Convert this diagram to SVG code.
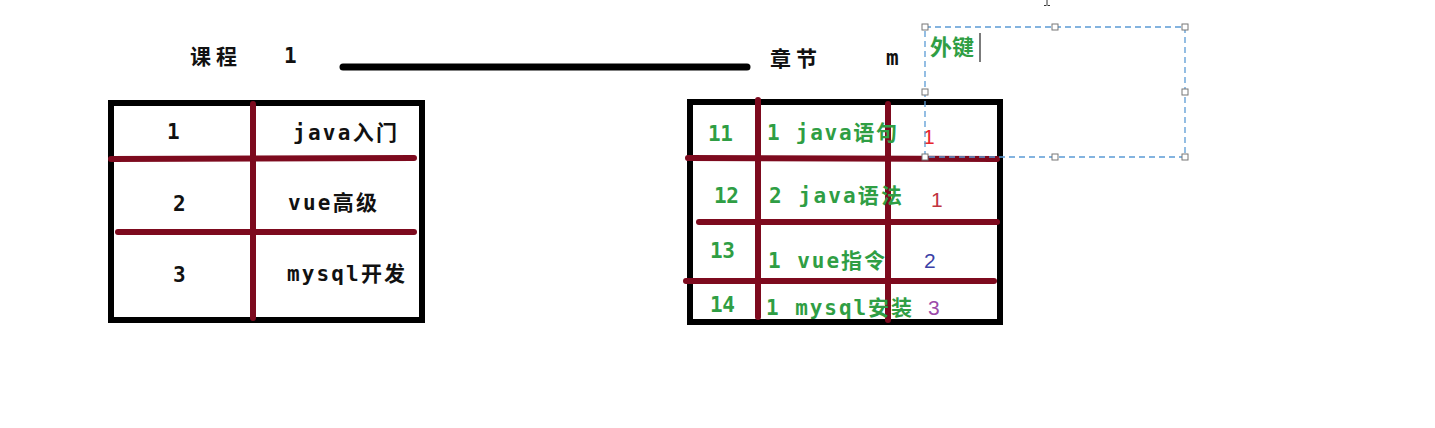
<svg xmlns="http://www.w3.org/2000/svg" width="1435" height="428" viewBox="0 0 1435 428">
<style>
.t{font-family:"DejaVu Sans Mono","Noto Sans CJK SC",monospace;font-weight:bold;font-size:21px;fill:#111}
.g{fill:#2f9e44}
.n{font-family:"Liberation Sans",sans-serif;font-size:21px}
.frame{fill:none;stroke:#000;stroke-width:6}
.grid{stroke:#7d0a1e;stroke-width:6;stroke-linecap:round}
.sel{fill:none;stroke:#5b9bd5;stroke-width:1.3;stroke-dasharray:6 4}
.h{fill:#fff;stroke:#777;stroke-width:1}
</style>
<rect width="1435" height="428" fill="#fff"/>
<g id="labels">
<text class="t" x="190" y="64" textLength="47">课程</text>
<text class="t" x="284" y="63">1</text>
<text class="t" x="770" y="66" textLength="47">章节</text>
<text class="t" x="886" y="65" font-size="16">m</text>
</g>
<g id="connectors">
<line x1="343" y1="67" x2="747" y2="67" stroke="#000" stroke-width="7" stroke-linecap="round"/>
</g>
<g id="course-table">
<rect class="frame" x="111" y="103" width="311" height="217"/>
<line class="grid" x1="253" y1="104" x2="253" y2="318"/>
<line class="grid" x1="111" y1="159" x2="414" y2="158"/>
<line class="grid" x1="118" y1="232" x2="414" y2="232"/>
<text class="t" x="167" y="139">1</text>
<text class="t" x="293" y="140" textLength="104">java入门</text>
<text class="t" x="173" y="211">2</text>
<text class="t" x="288" y="210" textLength="89">vue高级</text>
<text class="t" x="173" y="282">3</text>
<text class="t" x="287" y="281" textLength="118">mysql开发</text>
</g>
<g id="chapter-table">
<rect class="frame" x="690" y="102" width="310" height="220"/>
<line class="grid" x1="758" y1="100" x2="758" y2="317"/>
<line class="grid" x1="888" y1="104" x2="888" y2="320"/>
<line class="grid" x1="688" y1="158" x2="997" y2="159"/>
<line class="grid" x1="699" y1="222" x2="997" y2="222"/>
<line class="grid" x1="686" y1="281" x2="994" y2="281"/>
<text class="t g" x="708" y="141" textLength="25">11</text>
<text class="t g" x="767" y="140" textLength="130">1 java语句</text>
<text class="n" x="923" y="144" fill="#e8262b">1</text>
<text class="t g" x="714" y="203" textLength="25">12</text>
<text class="t g" x="769" y="203" textLength="133">2 java语法</text>
<text class="n" x="931" y="207" fill="#c0343f">1</text>
<text class="t g" x="710" y="258" textLength="25">13</text>
<text class="t g" x="768" y="268" textLength="117">1 vue指令</text>
<text class="n" x="924" y="268" fill="#3b3fa6">2</text>
<text class="t g" x="710" y="312" textLength="25">14</text>
<text class="t g" x="766" y="315" textLength="146">1 mysql安装</text>
<text class="n" x="928" y="315" fill="#9b4aa8">3</text>
</g>
<g id="fk-textbox">
<rect class="sel" x="925" y="27" width="260" height="130"/>
<text x="930" y="55" font-family="Noto Sans CJK SC,sans-serif" font-weight="bold" font-size="22" fill="#2f9e44">外键</text>
<line x1="980" y1="33" x2="980" y2="62" stroke="#333" stroke-width="1.3"/>
<rect class="h" x="922" y="24" width="6" height="6"/>
<rect class="h" x="1052" y="24" width="6" height="6"/>
<rect class="h" x="1182" y="24" width="6" height="6"/>
<rect class="h" x="922" y="89" width="6" height="6"/>
<rect class="h" x="1182" y="89" width="6" height="6"/>
<rect class="h" x="922" y="154" width="6" height="6"/>
<rect class="h" x="1052" y="154" width="6" height="6"/>
<rect class="h" x="1182" y="154" width="6" height="6"/>
</g>
<path d="M1047 0 V5 M1044 5.5 H1046.5 M1047.5 5.5 H1050" stroke="#333" stroke-width="1" fill="none"/>
</svg>
